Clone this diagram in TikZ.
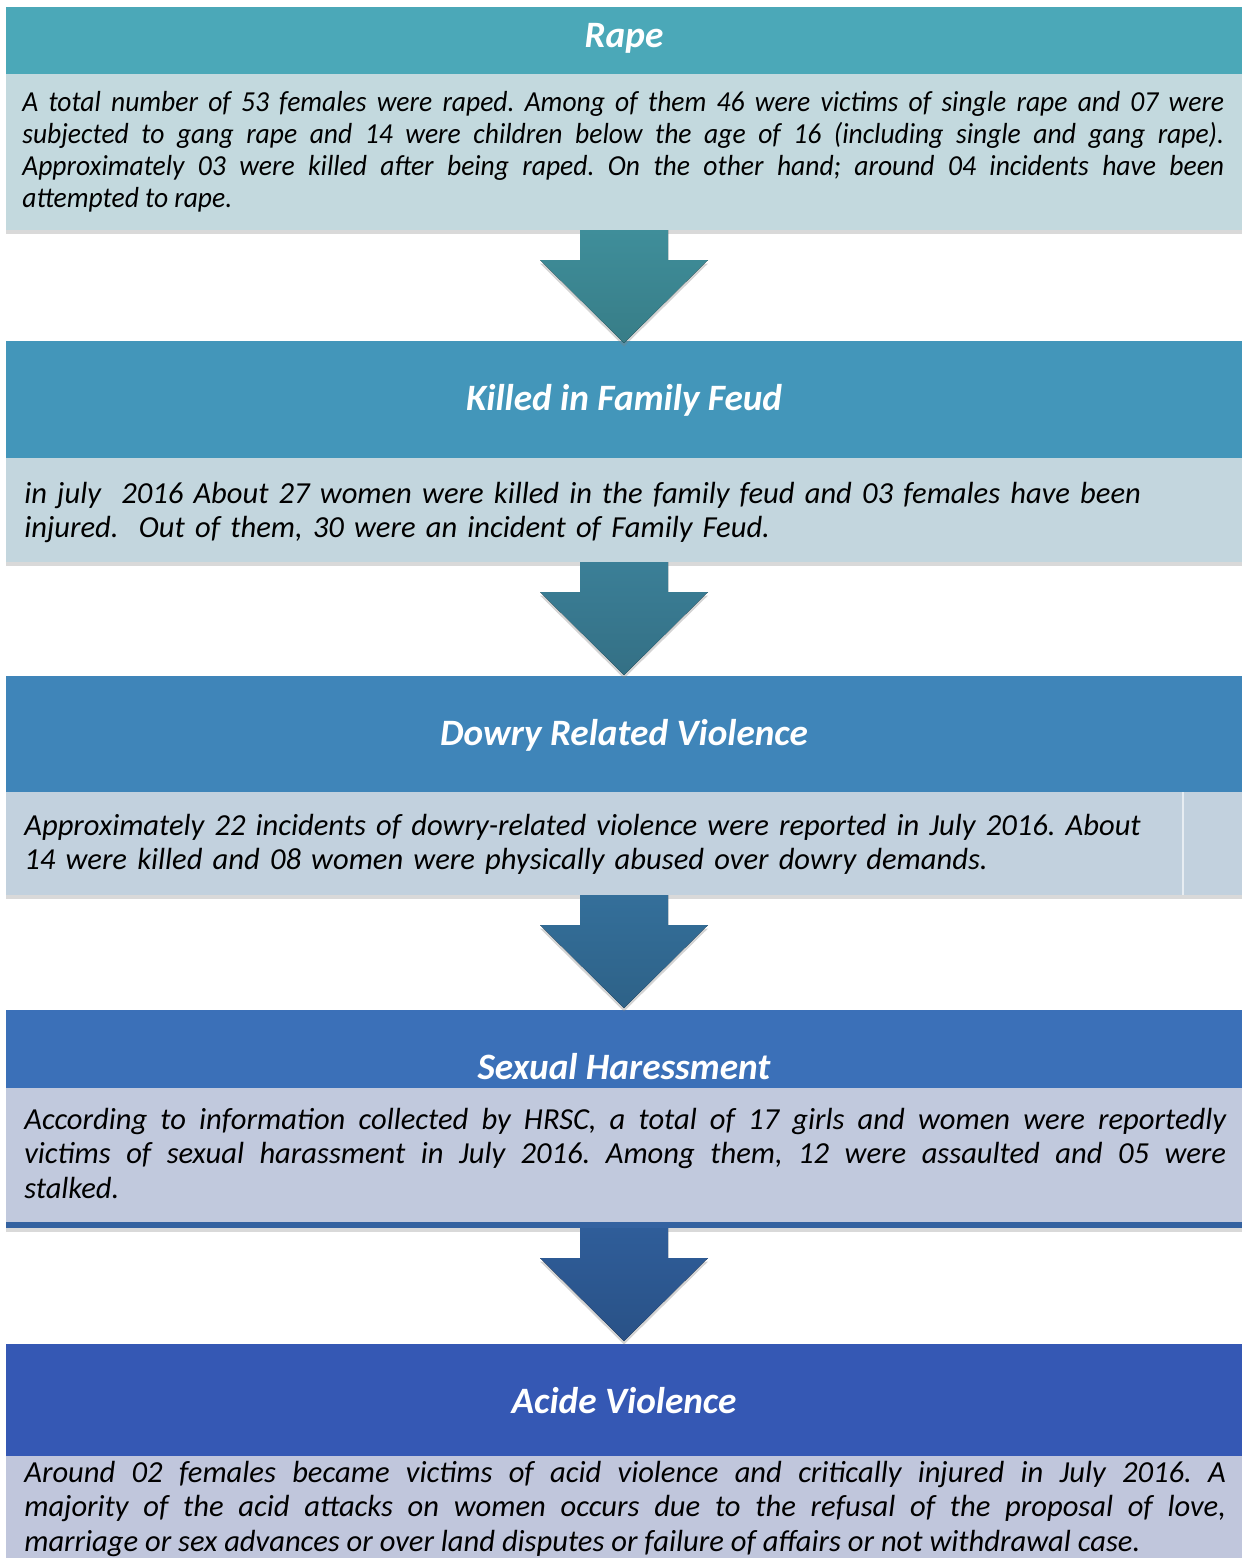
\documentclass[tikz,border=0pt]{standalone}
\usepackage{fontspec}
\setmainfont{Carlito}
\newfontfamily\narrowfont[FakeStretch=0.95]{Carlito}
\usetikzlibrary{shadows}
\frenchspacing

\definecolor{headA}{HTML}{4BA8B8}
\definecolor{headB}{HTML}{4396BA}
\definecolor{headC}{HTML}{3F85B9}
\definecolor{headD}{HTML}{3B70B8}
\definecolor{headE}{HTML}{3558B4}
\definecolor{bodyA}{HTML}{C3D9DE}
\definecolor{bodyB}{HTML}{C3D6DE}
\definecolor{bodyC}{HTML}{C2D1DE}
\definecolor{bodyD}{HTML}{C1C9DD}
\definecolor{bodyE}{HTML}{C0C6DC}
\definecolor{arrA}{HTML}{3F8E9A}
\definecolor{arrB}{HTML}{3B7F97}
\definecolor{arrC}{HTML}{346F9A}
\definecolor{arrD}{HTML}{2F5D99}
\definecolor{bandD}{HTML}{3462A0}

\begin{document}
\begin{tikzpicture}[x=0.02cm,y=-0.02cm,
  box/.style={drop shadow={shadow xshift=0pt,shadow yshift=-2.5pt,opacity=.3}},
  title/.style={anchor=base,text=white,inner sep=0pt,font=\fontsize{21.2}{25}\selectfont\bfseries\itshape},
  body/.style={anchor=base west,inner sep=0pt,text width=24.04cm,align=justify,
    font=\fontsize{17.4}{19.85}\selectfont\itshape},
  blockarrow/.style={drop shadow={shadow xshift=0pt,shadow yshift=-2pt,opacity=.35}}]
 \useasboundingbox (0,0) rectangle (1244,1558);

 % Rape
 \fill[bodyA,box] (6,74) rectangle (1242,230);
 \fill[headA] (6,7) rectangle (1242,74);
 \node[title] (t1) at (624,48) {Rape};
 \node[body,font=\fontsize{16.5}{18.15}\selectfont\narrowfont\itshape] (b1) at (22,112)
  {A total number of 53 females were raped. Among of them 46 were victims of single rape and 07 were\linebreak
   subjected to gang rape and 14 were children below the age of 16 (including single and gang rape).\linebreak
   Approximately 03 were killed after being raped. On the other hand; around 04 incidents have been\linebreak
   attempted to rape.};
 \coordinate (e1) at (624,230);

 % Family feud
 \fill[bodyB,box] (6,458) rectangle (1242,562);
 \fill[headB] (6,341) rectangle (1242,458);
 \node[title] (t2) at (624,410) {Killed in Family Feud};
 \node[body,align=left] (b2) at (24,503)
  {in july~ 2016 About 27 women were killed in the family feud and 03 females have been\\
   injured.~ Out of them, 30 were an incident of Family Feud.};
 \coordinate (e2) at (624,562);

 % Dowry
 \fill[bodyC,box] (6,792) rectangle (1242,895);
 \fill[headC] (6,676) rectangle (1242,792);
 \draw[white!60!bodyC,line width=1.2pt] (1183,792) -- (1183,895);
 \node[title] (t3) at (624,745) {Dowry Related Violence};
 \node[body,align=left] (b3) at (24,835)
  {Approximately 22 incidents of dowry-related violence were reported in July 2016. About\\
   14 were killed and 08 women were physically abused over dowry demands.};
 \coordinate (e3) at (624,895);

 % Sexual harassment
 \fill[bodyD,box] (6,1088) rectangle (1242,1228);
 \fill[bandD] (6,1222) rectangle (1242,1228);
 \fill[headD] (6,1010) rectangle (1242,1088);
 \node[title] (t4) at (624,1079) {Sexual Haressment};
 \node[body] (b4) at (24,1129)
  {According to information collected by HRSC, a total of 17 girls and women were reportedly\linebreak
   victims of sexual harassment in July 2016. Among them, 12 were assaulted and 05 were\linebreak
   stalked.};
 \coordinate (e4) at (624,1228);

 % Acid
 \fill[bodyE] (6,1456) rectangle (1242,1558);
 \fill[headE] (6,1344) rectangle (1242,1456);
 \node[title] (t5) at (624,1413) {Acide Violence};
 \node[body] (b5) at (24,1482)
  {Around 02 females became victims of acid violence and critically injured in July 2016. A\linebreak
   majority of the acid attacks on women occurs due to the refusal of the proposal of love,\linebreak
   marriage or sex advances or over land disputes or failure of affairs or not withdrawal case.};

 \foreach \e/\c in {e1/arrA,e2/arrB,e3/arrC,e4/arrD}
  \fill[blockarrow,top color=\c,bottom color=\c!88!black]
   (\e) ++(-44,0) -- ++(88,0) -- ++(0,30) -- ++(40,0) -- ++(-84,83)
   -- ++(-84,-83) -- ++(40,0) -- cycle;
\end{tikzpicture}
\end{document}
